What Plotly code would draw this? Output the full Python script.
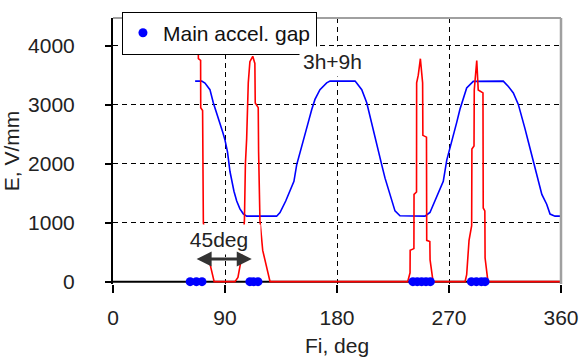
import plotly.graph_objects as go

# ---- data ----
blue_phase = [66, 71.3, 73.9, 77.9, 80.6, 83.3, 86, 88.2, 90, 92, 94, 95.4, 97.2, 99.4, 102, 104.7,
              107.4, 131.5, 134.2, 138.8, 142.8, 145.4, 147.6, 152.9, 156.9, 159.7, 162.3, 166.3,
              171.7, 174.4, 194.5, 195.8, 199.9, 203.9, 207.9, 210.5, 213.2, 215.9, 218.6, 221.2,
              224, 226.6, 230.6, 250.7, 254.7, 258.8, 262.8, 265.4, 268.2, 270.8, 273.5, 276.2,
              278.8, 281.5, 284.2, 289.5, 313.6, 317.7, 321.7, 325.7, 328.4, 331.1, 333.8, 336.5,
              339.1, 341.8, 344.6, 348.5, 351.2, 355.2, 359.2]
blue_field = [3400, 3400, 3367, 3255, 3033, 2867, 2700, 2533, 2400, 2200, 1867, 1700, 1533, 1367,
              1233, 1150, 1110, 1110, 1172, 1367, 1588, 1700, 1980, 2370, 2700, 2920, 3090, 3255,
              3370, 3400, 3400, 3367, 3255, 3033, 2700, 2480, 2255, 1983, 1755, 1588, 1367, 1200,
              1117, 1110, 1172, 1367, 1588, 1700, 2060, 2255, 2478, 2700, 2922, 3117, 3283, 3395,
              3400, 3310, 3200, 3005, 2810, 2590, 2367, 2145, 1922, 1700, 1478, 1312, 1145, 1110,
              1110]

red_phase = [68.5, 68.6, 70.4, 70.5, 72.0, 72.6, 76.6, 80.5, 81.3,
             98.0, 100.4, 103.4, 105.6, 106.4, 107.4, 108.7, 110.0, 112.3, 114.0, 114.3, 116.7,
             117.0, 118.1, 120.3, 126.2,
             236.8, 238.7, 238.8, 241.8, 241.9, 243.9, 244.0, 245.3, 247.0, 248.8, 249.0, 251.9,
             252.1, 254.6, 254.8, 257.2,
             282.9, 284.2, 286.1, 288.2, 288.4, 290.1, 290.3, 292.3, 293.5, 297.3, 297.5, 298.8,
             299.0, 301.3, 366]
red_field = [4450, 3780, 3750, 2950, 2900, 1000, 420, 70, 0,
             0, 70, 420, 1030, 2000, 2420, 3370, 3730, 3820, 3700, 3030, 2950,
             2200, 1030, 530, 0,
             0, 150, 530, 560, 1480, 1520, 3370, 3500, 3780, 3370, 2480, 2450,
             700, 680, 370, 0,
             0, 120, 700, 950, 2250, 2300, 3250, 3750, 3250, 3200, 1250, 1200,
             400, 0, 0]

gap_phase = [62, 67, 71.5, 110, 113, 116.5, 241, 244.5, 248, 251.5, 255, 288, 292, 296, 299]
gap_field = [0] * len(gap_phase)

x_ticks = [0, 90, 180, 270, 360]
y_ticks = [0, 1000, 2000, 3000, 4000]

FONT = "Liberation Sans, Arial, sans-serif"
TXT = "#222222"

fig = go.Figure()
fig.add_trace(go.Scatter(x=blue_phase, y=blue_field, mode="lines",
                         line=dict(color="#0000FF", width=1.6), showlegend=False))
fig.add_trace(go.Scatter(x=red_phase, y=red_field, mode="lines",
                         line=dict(color="#FF0000", width=1.6), showlegend=False))
fig.add_trace(go.Scatter(x=gap_phase, y=gap_field, mode="markers", name="Main accel. gap",
                         marker=dict(color="#0000FF", size=9), cliponaxis=False))

fig.update_layout(
    width=580, height=358,
    margin=dict(l=113, r=19, t=14, b=74),
    paper_bgcolor="white", plot_bgcolor="white",
    font=dict(family=FONT, size=21, color=TXT),
    legend=dict(x=0.02, y=1.024, xanchor="left", yanchor="top",
                bgcolor="white", bordercolor="black", borderwidth=1,
                font=dict(size=21, color="#111"), itemwidth=30,
                tracegroupgap=0),
    xaxis=dict(range=[0, 360], tickvals=x_ticks, ticktext=[str(v) for v in x_ticks],
               showgrid=True, gridcolor="black", gridwidth=1.4, griddash="5px,4px",
               showline=False, zeroline=False, automargin=False,
               ticks="outside", ticklen=8, tickwidth=2, tickcolor="black",
               ticklabelstandoff=7,
               title=dict(text="Fi, deg", standoff=10, font=dict(size=21, color=TXT))),
    yaxis=dict(range=[-40, 4470], tickvals=y_ticks, ticktext=[str(v) for v in y_ticks],
               showgrid=True, gridcolor="black", gridwidth=1.4, griddash="5px,4px",
               showline=True, linecolor="black", linewidth=2, zeroline=False,
               automargin=False,
               ticks="outside", ticklen=6, tickwidth=2, tickcolor="black",
               ticklabelstandoff=26,
               title=dict(text="E, V/mm", standoff=6, font=dict(size=21, color=TXT))),
    shapes=[
        dict(type="line", xref="paper", yref="y", x0=0, x1=1, y0=0, y1=0,
             layer="between", line=dict(color="black", width=2)),
        dict(type="line", xref="paper", yref="paper", x0=0, x1=1, y0=1, y1=1,
             line=dict(color="#a0a0a0", width=2)),
        dict(type="line", xref="paper", yref="paper", x0=1, x1=1, y0=0, y1=1,
             line=dict(color="#a0a0a0", width=2.5)),
    ],
    annotations=[
        dict(x=149.5, y=3733, xref="x", yref="y", text="3h+9h", showarrow=False,
             xanchor="left", align="left", width=84, bgcolor="white", borderpad=3,
             font=dict(size=21, color=TXT)),
        dict(x=84.8, y=720, xref="x", yref="y", text="45deg", showarrow=False,
             bgcolor="white", borderpad=3, width=76, font=dict(size=21, color=TXT)),
        dict(x=111.5, y=383, ax=66, ay=383, xref="x", yref="y", axref="x", ayref="y",
             text="", showarrow=True, arrowside="end+start", arrowhead=2, arrowsize=1,
             arrowwidth=3, arrowcolor="#333333", standoff=0, startstandoff=0),
    ],
)

fig.write_html("out.html")
